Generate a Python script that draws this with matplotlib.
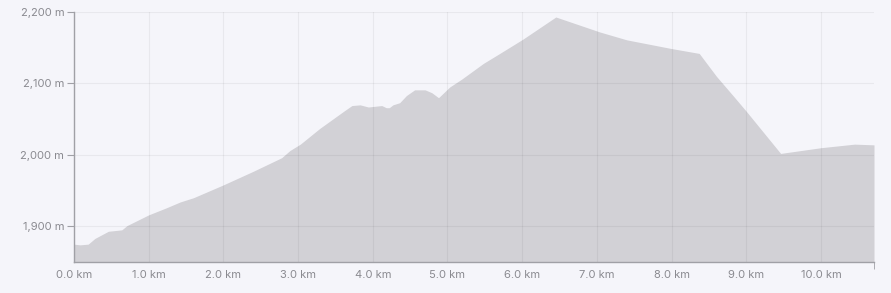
import matplotlib.pyplot as plt
from matplotlib.ticker import FuncFormatter

# elevation profile (km, m)
dist_km = [0.0, 0.08, 0.19, 0.28, 0.37, 0.46, 0.55, 0.64, 0.71, 1.0, 1.24, 1.42,
           1.60, 2.0, 2.40, 2.78, 2.89, 3.03, 3.29, 3.61, 3.72, 3.83, 3.94, 4.12,
           4.18, 4.22, 4.27, 4.36, 4.45, 4.56, 4.70, 4.79, 4.88, 4.90, 5.03, 5.19,
           5.48, 5.70, 6.01, 6.45, 7.04, 7.40, 7.99, 8.37, 8.60, 8.83, 9.0, 9.46,
           10.0, 10.45, 10.71]
elev_m = [1875, 1874, 1875, 1883, 1888, 1893, 1894, 1895, 1901, 1916, 1926, 1934,
          1940, 1958, 1977, 1996, 2006, 2015, 2037, 2061, 2069, 2070, 2067, 2069,
          2066, 2066, 2070, 2073, 2083, 2091, 2091, 2087, 2080, 2082, 2095, 2106,
          2128, 2142, 2162, 2193, 2172, 2161, 2149, 2142, 2110, 2082, 2061, 2002,
          2010, 2015, 2014]

x_ticks = [0, 1, 2, 3, 4, 5, 6, 7, 8, 9, 10]
y_ticks = [1900, 2000, 2100, 2200]

bg = '#f5f5fa'
fill_col = '#d2d1d6'
axis_col = '#a0a0a6'
text_col = '#8a8a90'

plt.rcParams['font.family'] = ['Inter', 'DejaVu Sans']

fig = plt.figure(figsize=(8.91, 2.93), dpi=100, facecolor=bg)
ax = fig.add_axes([74 / 891, 31 / 293, 800 / 891, 250 / 293], facecolor=bg)

ax.fill_between(dist_km, elev_m, 1850, color=fill_col, linewidth=0, zorder=1)

ax.set_xlim(0, 10.71)
ax.set_ylim(1850, 2200)
ax.set_xticks(x_ticks)
ax.set_yticks(y_ticks)
ax.xaxis.set_major_formatter(FuncFormatter(lambda v, p: f'{v:.1f} km'))
ax.yaxis.set_major_formatter(FuncFormatter(lambda v, p: f'{v:,.0f} m'))

# grid drawn over the fill, faint so it shows on both
ax.set_axisbelow(False)
ax.grid(True, color='black', alpha=0.05, linewidth=0.8, zorder=2)

for s in ['top', 'right']:
    ax.spines[s].set_visible(False)
for s in ['left', 'bottom']:
    ax.spines[s].set_color(axis_col)
    ax.spines[s].set_linewidth(1)
    ax.spines[s].set_zorder(3)

ax.tick_params(axis='y', length=5, color=axis_col, labelcolor=text_col,
               labelsize=8, pad=2)
ax.tick_params(axis='x', length=0, labelcolor=text_col, labelsize=8, pad=6)

# small end ticks on the x axis
ax.set_xticks([0, 10.71], minor=True)
ax.tick_params(axis='x', which='minor', length=5, color=axis_col)

plt.savefig('out.png', dpi=100, facecolor=bg)
